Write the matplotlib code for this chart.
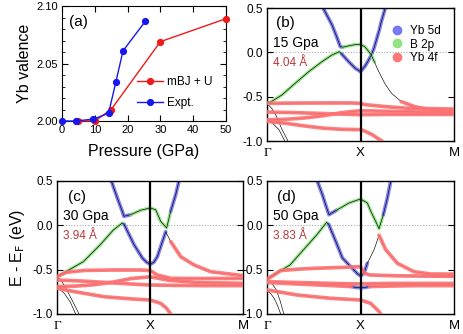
import matplotlib
matplotlib.use('Agg')
import matplotlib.pyplot as plt
from matplotlib.lines import Line2D
from matplotlib.ticker import MultipleLocator

plt.rcParams['font.family'] = ['Liberation Sans', 'DejaVu Sans']

# ---- (a) Yb valence vs pressure
p_calc = [5, 10, 15, 30, 50]
v_calc = [2.000, 2.000, 2.010, 2.069, 2.089]
p_expt = [0, 4.3, 9.6, 14.2, 16.4, 18.6, 25.4]
v_expt = [2.000, 2.000, 2.0017, 2.0067, 2.0336, 2.061, 2.0867]

k_ticks = [0, 1, 2]
k_labels = ['Γ', 'X', 'M']

# ---- band data: k (Γ=0, X=1, M=2), E (eV), character per point
# b = Yb 5d, g = B 2p, r = Yb 4f, k = plain
# 15 GPa
b_low_k = [0, 0.05, 0.16, 0.30, 0.446, 0.588, 0.695, 0.773, 0.80, 0.873, 0.945, 1.0, 1.045, 1.08, 1.115, 1.145, 1.17, 1.20, 1.222, 1.265]
b_low_e = [-0.58, -0.553, -0.48, -0.35, -0.218, -0.105, -0.03, 0.007, -0.02, -0.105, -0.18, -0.218, -0.16, -0.10, -0.03, 0.05, 0.14, 0.25, 0.345, 0.5]
b_low_c = 'gggggggg' + 'bbbbbbbbbbbb'
b_up_k = [0.60, 0.65, 0.695, 0.74, 0.784, 0.81, 0.86, 0.93, 1.0, 1.045, 1.08, 1.115, 1.15, 1.187, 1.259, 1.33, 1.436, 1.58, 1.757, 2.0]
b_up_e = [0.5, 0.40, 0.31, 0.19, 0.064, 0.058, 0.07, 0.085, 0.09, 0.064, 0.02, -0.03, -0.11, -0.2, -0.35, -0.46, -0.556, -0.613, -0.65, -0.66]
b_up_c = 'bbbbb' + 'ggggggg' + 'kkkk' + 'rrrr'
b_f1_k = [0, 0.3, 0.6, 0.9, 1.0, 1.05, 1.15, 1.3, 1.5, 1.75, 2.0]
b_f1_e = [-0.575, -0.572, -0.571, -0.571, -0.575, -0.59, -0.60, -0.615, -0.63, -0.635, -0.64]
b_f2_k = [0, 0.3, 0.6, 0.9, 1.0, 1.3, 1.6, 2.0]
b_f2_e = [-0.673, -0.68, -0.69, -0.70, -0.703, -0.70, -0.70, -0.70]
b_f3_k = [0, 0.2, 0.4, 0.6, 0.8, 1.0, 1.3, 1.6, 2.0]
b_f3_e = [-0.76, -0.755, -0.74, -0.715, -0.68, -0.658, -0.665, -0.672, -0.675]
b_f4_k = [0, 0.2, 0.4, 0.6, 0.8, 1.0, 1.037, 1.126, 1.19, 1.23]
b_f4_e = [-0.778, -0.80, -0.83, -0.855, -0.868, -0.872, -0.884, -0.929, -0.975, -1.0]
b_k1_k = [0, 0.05, 0.10, 0.16, 0.225]
b_k1_e = [-0.58, -0.63, -0.72, -0.87, -1.0]
b_k2_k = [0, 0.04, 0.075, 0.128, 0.19]
b_k2_e = [-0.77, -0.785, -0.816, -0.872, -1.0]

# 30 GPa
c_low_k = [0, 0.1, 0.282, 0.461, 0.604, 0.70, 0.72, 0.826, 0.915, 0.96, 1.0, 1.04, 1.076, 1.13, 1.166, 1.22, 1.327, 1.47, 1.648, 2.0]
c_low_e = [-0.579, -0.52, -0.41, -0.222, -0.053, 0.026, 0.01, -0.218, -0.368, -0.415, -0.44, -0.415, -0.354, -0.184, -0.072, -0.184, -0.354, -0.447, -0.523, -0.568]
c_low_c = 'gggggg' + 'bbbbbbbb' + 'k' + 'rrrrr'
c_up_k = [0.583, 0.647, 0.70, 0.718, 0.79, 0.897, 1.0, 1.058, 1.112, 1.176, 1.219, 1.273, 1.308]
c_up_e = [0.5, 0.308, 0.158, 0.102, 0.12, 0.17, 0.196, 0.176, 0.045, -0.03, 0.158, 0.346, 0.5]
c_up_c = 'bbbb' + 'gggggg' + 'bbb'
c_f1_k = [0, 0.1, 0.3, 0.6, 0.9, 1.0, 1.076, 1.22, 1.5, 2.0]
c_f1_e = [-0.579, -0.53, -0.508, -0.504, -0.504, -0.51, -0.56, -0.598, -0.60, -0.598]
c_f2_k = [0, 0.3, 0.6, 0.9, 1.0, 1.3, 1.6, 2.0]
c_f2_e = [-0.617, -0.63, -0.65, -0.668, -0.673, -0.678, -0.68, -0.68]
c_f3_k = [0, 0.2, 0.4, 0.6, 0.8, 1.0, 1.2, 1.5, 2.0]
c_f3_e = [-0.69, -0.685, -0.67, -0.64, -0.60, -0.58, -0.62, -0.645, -0.654]
c_f4_k = [0, 0.2, 0.504, 0.8, 1.0, 1.112, 1.17, 1.22]
c_f4_e = [-0.71, -0.75, -0.805, -0.83, -0.842, -0.88, -0.93, -1.0]
c_k1_k = [0, 0.05, 0.10, 0.16, 0.236]
c_k1_e = [-0.58, -0.63, -0.72, -0.84, -1.0]
c_k2_k = [0, 0.04, 0.08, 0.14, 0.20]
c_k2_e = [-0.71, -0.73, -0.77, -0.86, -1.0]

# 50 GPa
d_low_k = [0, 0.1, 0.246, 0.388, 0.531, 0.638, 0.66, 0.735, 0.806, 0.895, 0.966, 1.0, 1.037, 1.073, 1.144, 1.198, 1.27, 1.394, 1.572, 1.75, 2.0]
d_low_e = [-0.605, -0.54, -0.447, -0.278, -0.109, 0.034, 0.01, -0.18, -0.368, -0.466, -0.545, -0.57, -0.541, -0.428, -0.278, -0.112, -0.275, -0.428, -0.523, -0.549, -0.55]
d_low_c = 'gggggg' + 'bbbbbbb' + 'kk' + 'rrrrrr'
d_up_k = [0.538, 0.592, 0.638, 0.663, 0.752, 0.877, 1.0, 1.073, 1.11, 1.162, 1.198, 1.244, 1.287, 1.323]
d_up_e = [0.5, 0.346, 0.196, 0.12, 0.176, 0.252, 0.297, 0.252, 0.158, 0.045, -0.038, 0.12, 0.308, 0.5]
d_up_c = 'bbbb' + 'ggggggg' + 'bbb'
d_f1_k = [0, 0.075, 0.146, 0.32, 0.503, 0.8, 1.0, 1.04, 1.1, 1.4, 2.0]
d_f1_e = [-0.605, -0.56, -0.51, -0.495, -0.485, -0.475, -0.466, -0.54, -0.56, -0.57, -0.575]
d_f2_k = [0, 0.3, 0.6, 0.9, 1.0, 1.3, 1.6, 2.0]
d_f2_e = [-0.635, -0.645, -0.652, -0.66, -0.66, -0.655, -0.655, -0.655]
d_f3_k = [0, 0.3, 0.6, 0.8, 0.9, 0.95, 1.0, 1.05, 1.1, 1.3, 1.6, 2.0]
d_f3_e = [-0.645, -0.66, -0.675, -0.685, -0.69, -0.70, -0.705, -0.70, -0.69, -0.685, -0.68, -0.68]
d_f3_c = 'rrrr' + 'bbbb' + 'rrrr'
d_f4_k = [0, 0.15, 0.324, 0.68, 1.0, 1.109, 1.198, 1.216]
d_f4_e = [-0.729, -0.755, -0.786, -0.823, -0.842, -0.88, -0.973, -1.0]
d_k1_k = [0, 0.05, 0.10, 0.14, 0.18]
d_k1_e = [-0.605, -0.65, -0.73, -0.85, -1.0]
d_k2_k = [0, 0.04, 0.08, 0.115, 0.146]
d_k2_e = [-0.74, -0.77, -0.83, -0.91, -1.0]

panel_tags = ['(b)', '(c)', '(d)']
pressures = ['15 Gpa', '30 Gpa', '50 Gpa']
lattice = ['4.04 Å', '3.94 Å', '3.83 Å']
legend_labels = ['Yb 5d', 'B 2p', 'Yb 4f']

FAT = {'b': '#7373f4', 'g': '#8be47d', 'r': '#ff7272'}
FAT_LW = {'b': 2.7, 'g': 2.4, 'r': 2.7}
FAT_Z = {'b': 2, 'g': 2, 'r': 4}
TXT_RED = '#b8383c'


def fat_band(ax, k, e, c=None):
    if c is None:
        c = 'r' * len(k)
    ax.plot(k, e, color='k', lw=0.45, zorder=3, solid_joinstyle='round')
    start = 0
    for i in range(1, len(k) + 1):
        if i == len(k) or c[i] != c[start]:
            ch = c[start]
            if ch != 'k':
                ax.plot(k[start:i + 1], e[start:i + 1], color=FAT[ch], lw=FAT_LW[ch],
                        alpha=0.9, zorder=FAT_Z[ch], solid_capstyle='round',
                        solid_joinstyle='round')
            start = i


fig = plt.figure(figsize=(4.63, 3.34), dpi=100)

# ---------- panel (a)
ax = fig.add_axes([0.1339, 0.6377, 0.3542, 0.3443])
ax.plot(p_calc, v_calc, '-o', color='#f01818', ms=4.2, lw=1.0, clip_on=False, zorder=3,
        label='mBJ + U')
ax.plot(p_expt, v_expt, '-o', color='#1818ee', ms=4.2, lw=1.0, clip_on=False, zorder=4,
        label='Expt.')
ax.set_xlim(0, 50)
ax.set_ylim(2.0, 2.1)
ax.set_xticks([0, 10, 20, 30, 40, 50])
ax.set_yticks([2.00, 2.05, 2.10])
ax.set_yticklabels(['2.00', '2.05', '2.10'])
ax.yaxis.set_minor_locator(MultipleLocator(0.01))
ax.tick_params(direction='in', top=True, right=True, labelsize=8, length=4, pad=3)
ax.tick_params(which='minor', direction='in', right=True, length=2)
ax.set_xlabel('Pressure (GPa)', fontsize=11.5, labelpad=6)
ax.set_ylabel('Yb valence', fontsize=11.5, labelpad=3)
ax.text(0.045, 0.865, '(a)', transform=ax.transAxes, fontsize=11, va='center')
ax.legend(loc='center left', bbox_to_anchor=(0.457, 0.245), frameon=False, fontsize=8.5,
          handlelength=2.2, handletextpad=0.35, labelspacing=0.75, borderpad=0,
          borderaxespad=0)

# ---------- band panels
rects = [[0.5767, 0.5778, 0.4039, 0.3982],
         [0.1231, 0.0599, 0.4028, 0.3982],
         [0.5767, 0.0599, 0.4039, 0.3982]]

bands = [
    [(b_low_k, b_low_e, b_low_c), (b_up_k, b_up_e, b_up_c), (b_f1_k, b_f1_e, None),
     (b_f2_k, b_f2_e, None), (b_f3_k, b_f3_e, None), (b_f4_k, b_f4_e, None),
     (b_k1_k, b_k1_e, 'k' * len(b_k1_k)), (b_k2_k, b_k2_e, 'k' * len(b_k2_k))],
    [(c_low_k, c_low_e, c_low_c), (c_up_k, c_up_e, c_up_c), (c_f1_k, c_f1_e, None),
     (c_f2_k, c_f2_e, None), (c_f3_k, c_f3_e, None), (c_f4_k, c_f4_e, None),
     (c_k1_k, c_k1_e, 'k' * len(c_k1_k)), (c_k2_k, c_k2_e, 'k' * len(c_k2_k))],
    [(d_low_k, d_low_e, d_low_c), (d_up_k, d_up_e, d_up_c), (d_f1_k, d_f1_e, None),
     (d_f2_k, d_f2_e, None), (d_f3_k, d_f3_e, d_f3_c), (d_f4_k, d_f4_e, None),
     (d_k1_k, d_k1_e, 'k' * len(d_k1_k)), (d_k2_k, d_k2_e, 'k' * len(d_k2_k))],
]

tag_pos = [(0.046, 0.89), (0.057, 0.882), (0.052, 0.882)]

for n in range(3):
    ax = fig.add_axes(rects[n])
    for k, e, c in bands[n]:
        fat_band(ax, k, e, c)
    ax.axhline(0, color='#aaaaaa', lw=0.8, ls=(0, (1, 1.5)), zorder=1)
    ax.axvline(1, color='k', lw=1.6, zorder=5)
    ax.set_xlim(0, 2)
    ax.set_ylim(-1.0, 0.5)
    ax.set_yticks([-1.0, -0.5, 0.0, 0.5])
    ax.set_yticklabels(['-1.0', '-0.5', '0.0', '0.5'])
    ax.set_xticks(k_ticks)
    ax.set_xticklabels(k_labels)
    ax.get_xticklabels()[0].set_fontfamily('Liberation Serif')
    ax.tick_params(axis='y', direction='in', right=True, labelsize=8.5, length=4, pad=3)
    ax.tick_params(axis='x', length=0, labelsize=9.5, pad=4)
    for s in ax.spines.values():
        s.set_linewidth(1.0)
    tx, ty = tag_pos[n]
    ax.text(tx, ty, panel_tags[n], transform=ax.transAxes, fontsize=11, va='center')
    ax.text(0.03, 0.74, pressures[n], transform=ax.transAxes, fontsize=10, va='center')
    ax.text(0.03, 0.59, lattice[n], transform=ax.transAxes, fontsize=8.5, va='center',
            color=TXT_RED)
    if n == 0:
        handles = [Line2D([], [], ls='none', marker='o', ms=6, color=FAT[ch], alpha=0.95)
                   for ch in 'bgr']
        ax.legend(handles, legend_labels, loc='center left', bbox_to_anchor=(0.67, 0.725),
                  frameon=False, fontsize=8.5, handlelength=0.8, handletextpad=0.7,
                  labelspacing=0.15, borderpad=0, borderaxespad=0)
    if n == 1:
        ax.set_ylabel('E - E$_\\mathrm{F}$ (eV)', fontsize=11.5, labelpad=4)

fig.savefig('out.png', dpi=100)
